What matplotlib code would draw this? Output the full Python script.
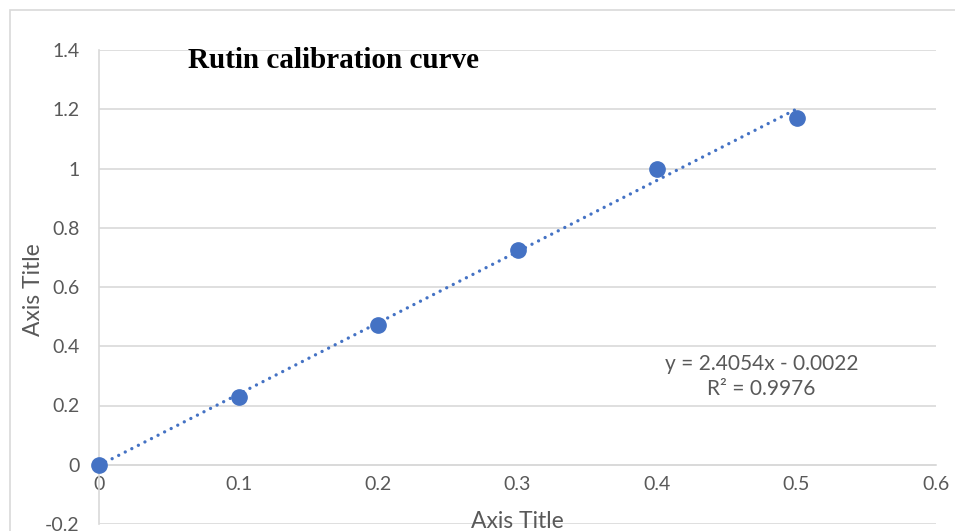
import matplotlib.pyplot as plt
from matplotlib.patches import Rectangle

conc = [0, 0.1, 0.2, 0.3, 0.4, 0.5]
absorb = [0, 0.23, 0.472, 0.725, 0.998, 1.17]
slope, intercept = 2.4054, -0.0022
r2 = 0.9976
xticks = [0, 0.1, 0.2, 0.3, 0.4, 0.5, 0.6]
yticks = [-0.2, 0, 0.2, 0.4, 0.6, 0.8, 1, 1.2, 1.4]

blue = '#4472C4'
grid = '#D9D9D9'
txt = '#595959'

if __name__ == '__main__':
    plt.rcParams['font.family'] = ['Lato', 'DejaVu Sans']
    fig = plt.figure(figsize=(9.55, 5.31), dpi=100)
    fig.patches.append(Rectangle((10 / 955, -0.5), 2, 1.5 - 10 / 531, transform=fig.transFigure,
                                 fill=False, edgecolor=grid, linewidth=1.2))
    ax = fig.add_axes([99 / 955, 1 - 524 / 531, (936 - 99) / 955, (524 - 50) / 531])

    ax.set_xlim(0, 0.6)
    ax.set_ylim(-0.2, 1.4)
    ax.set_xticks(xticks)
    ax.set_yticks(yticks)
    ax.set_xticklabels(['0', '0.1', '0.2', '0.3', '0.4', '0.5', '0.6'])
    ax.set_yticklabels(['-0.2', '0', '0.2', '0.4', '0.6', '0.8', '1', '1.2', '1.4'])
    ax.grid(axis='y', color=grid, linewidth=1.2)
    ax.set_axisbelow(True)
    for s in ['top', 'right']:
        ax.spines[s].set_visible(False)
    # horizontal axis crosses at y = 0
    ax.spines['bottom'].set_position(('data', 0))
    for s in ['left', 'bottom']:
        ax.spines[s].set_color(grid)
        ax.spines[s].set_linewidth(1.2)
    ax.tick_params(axis='both', length=0, labelsize=14, colors=txt)
    ax.tick_params(axis='y', pad=14)
    ax.tick_params(axis='x', pad=8)

    xs = [conc[0], conc[-1]]
    ax.plot(xs, [slope * x + intercept for x in xs], color=blue, linewidth=2.4,
            linestyle=(0, (0.01, 2.2)), dash_capstyle='round', zorder=3)
    ax.plot(conc, absorb, 'o', color=blue, markersize=11, zorder=4, clip_on=False)

    ax.text(0.475, 0.297, f'y = {slope}x - {abs(intercept):.4f}\nR² = {r2}',
            ha='center', va='center', fontsize=15, color=txt, linespacing=1.3)

    ax.set_ylabel('Axis Title', fontsize=16.5, color=txt)
    ax.yaxis.set_label_coords(-0.0657, 0.494)
    ax.text(0.3, -0.19, 'Axis Title', ha='center', va='center', fontsize=16.5, color=txt)
    fig.text(188 / 955, 1 - 60 / 531, 'Rutin calibration curve', fontsize=21, fontweight='bold',
             family='Liberation Serif', va='center', ha='left')

    plt.savefig('out.png', dpi=100)
